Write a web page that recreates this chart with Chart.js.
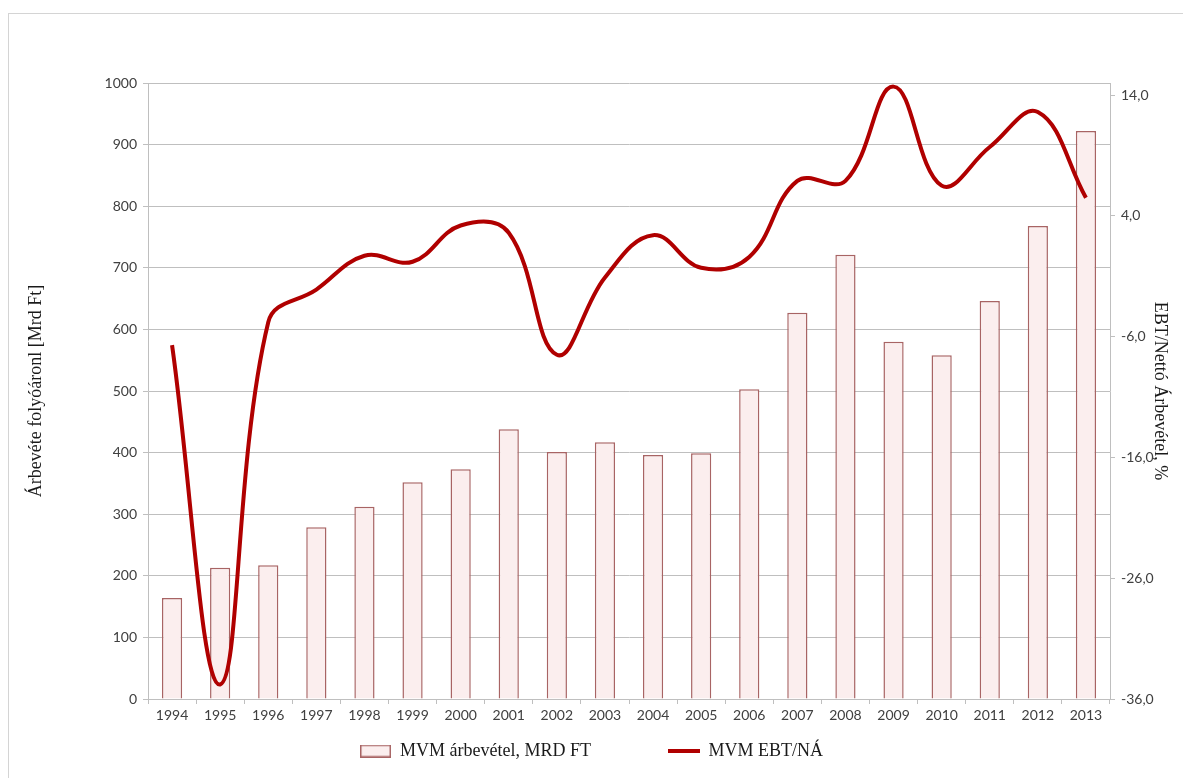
<!DOCTYPE html>
<html>
<head>
<meta charset="utf-8">
<script src="https://cdn.jsdelivr.net/npm/chart.js@4"></script>
<style>
  html, body { margin: 0; padding: 0; background: #fff; }
  #frame { position: absolute; left: 8px; top: 13px; width: 1400px; height: 1000px;
           border-top: 1px solid #d4d4d4; border-left: 1px solid #d4d4d4; }
  #wrap { position: absolute; left: 0; top: 0; width: 1183px; height: 778px; }
</style>
</head>
<body>
<div id="frame"></div>
<div id="wrap"><canvas id="mvmChart"></canvas></div>
<script>
// values
const years = ['1994', '1995', '1996', '1997', '1998', '1999', '2000', '2001', '2002', '2003',
               '2004', '2005', '2006', '2007', '2008', '2009', '2010', '2011', '2012', '2013'];
const revenue = [164, 213, 217, 279, 312, 352, 373, 438, 401, 417,
                 396, 399, 503, 627, 721, 580, 558, 646, 768, 922];
const ebtRatio = [-6.7, -34.8, -4.8, -2.1, 0.7, 0.2, 3.2, 2.6, -7.5, -1.1,
                  2.4, -0.3, 0.6, 6.9, 6.9, 14.7, 6.5, 9.7, 12.6, 5.5];
const rightTicks = [-36, -26, -16, -6, 4, 14];

const tickFont = { family: 'Lato, "Open Sans", sans-serif', size: 14 };
const serifFont = { family: '"Liberation Serif", "DejaVu Serif", serif', size: 18 };

// little canvases used as legend icons
function legendIcon(w, h, fill, stroke) {
  const c = document.createElement('canvas');
  c.width = w; c.height = h;
  const g = c.getContext('2d');
  g.fillStyle = fill;
  g.fillRect(0, 0, w, h);
  if (stroke) {
    g.strokeStyle = stroke;
    g.lineWidth = 1.5;
    g.strokeRect(0.75, 0.75, w - 1.5, h - 1.5);
  }
  return c;
}
const barIcon = legendIcon(31, 13, '#fbeeee', '#a86464');
const lineIcon = legendIcon(32, 4, '#b00000');

const plotBottom = 699;
const gapSpaces = '\u00a0'.repeat(15);

const ctx = document.getElementById('mvmChart').getContext('2d');
new Chart(ctx, {
  type: 'bar',
  data: {
    labels: years,
    datasets: [{
      label: 'MVM árbevétel, MRD FT',
      data: revenue,
      yAxisID: 'y',
      backgroundColor: '#fbeeee',
      borderColor: '#a86464',
      borderWidth: 1.5,
      categoryPercentage: 1,
      barPercentage: 0.42,
      pointStyle: barIcon,
      order: 1
    }, {
      type: 'line',
      label: 'MVM EBT/NÁ',
      data: ebtRatio,
      yAxisID: 'y1',
      borderColor: '#b00000',
      backgroundColor: '#b00000',
      borderWidth: 4,
      pointRadius: 0,
      tension: 0.4,
      pointStyle: lineIcon,
      order: 0
    }]
  },
  options: {
    responsive: true,
    maintainAspectRatio: false,
    animation: false,
    layout: { padding: { top: 83, left: 0, right: 0, bottom: 8 } },
    plugins: {
      tooltip: { enabled: false },
      legend: {
        position: 'bottom',
        labels: {
          usePointStyle: true,
          pointStyleWidth: 31,
          padding: 10,
          color: '#1a1a1a',
          font: serifFont,
          sort: (a, b) => a.datasetIndex - b.datasetIndex,
          generateLabels: (chart) => {
            const items = Chart.defaults.plugins.legend.labels.generateLabels(chart);
            items.forEach(it => { if (it.datasetIndex === 0) it.text += gapSpaces; });
            return items;
          }
        }
      }
    },
    scales: {
      x: {
        offset: true,
        grid: { display: true, offset: true, drawOnChartArea: false, tickLength: 5, color: '#bfbfbf' },
        border: { color: '#bfbfbf' },
        ticks: { color: '#404040', font: tickFont, padding: 3, maxRotation: 0, autoSkip: false },
        afterFit: (scale) => {
          const lg = scale.chart.legend;
          scale.height = Math.max(20, 778 - plotBottom - 8 - (lg ? lg.height : 0));
        }
      },
      y: {
        position: 'left',
        min: 0,
        max: 1000,
        ticks: { stepSize: 100, color: '#404040', font: tickFont, padding: 6, callback: (v) => String(v) },
        grid: { color: '#bfbfbf', tickLength: 5 },
        border: { color: '#bfbfbf' },
        title: {
          display: true,
          text: 'Árbevéte folyóáronl [Mrd Ft]',
          color: '#1a1a1a',
          font: serifFont,
          padding: { top: 25, bottom: 0 }
        },
        afterFit: (scale) => { scale.width = 148; }
      },
      y1: {
        position: 'right',
        min: -36,
        max: 15,
        afterBuildTicks: (scale) => { scale.ticks = rightTicks.map(v => ({ value: v })); },
        ticks: {
          color: '#404040',
          font: tickFont,
          padding: 6,
          callback: (v) => v.toFixed(1).replace('.', ',')
        },
        grid: { drawOnChartArea: false, color: '#bfbfbf', tickLength: 5 },
        border: { color: '#bfbfbf' },
        title: {
          display: true,
          text: 'EBT/Nettó Árbevétel, %',
          color: '#1a1a1a',
          font: serifFont,
          padding: { top: 12, bottom: 0 }
        },
        afterFit: (scale) => { scale.width = 73; }
      }
    }
  }
});
</script>
</body>
</html>
